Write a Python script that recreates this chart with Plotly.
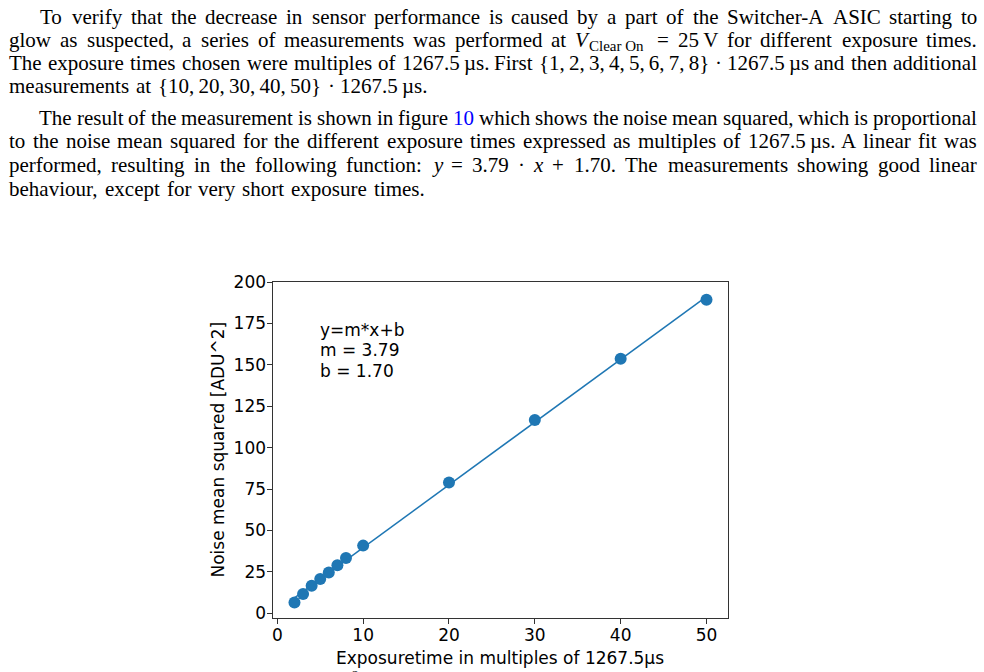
import re
import plotly.graph_objects as go

# ---------------- data ----------------
exposure_multiples = [2, 3, 4, 5, 6, 7, 8, 10, 20, 30, 40, 50]
noise_mean_sq = [6.5, 11.5, 16.5, 20.7, 24.6, 29.0, 33.3, 40.8, 79.0, 116.7, 153.7, 189.4]
fit_slope = 3.79
fit_intercept = 1.70
fit_x = [2, 50]
x_ticks = [0, 10, 20, 30, 40, 50]
y_ticks = [0, 25, 50, 75, 100, 125, 150, 175, 200]
fit_label_lines = ["y=m*x+b", "m = %.2f" % fit_slope, "b = %.2f" % fit_intercept]
x_title = "Exposuretime in multiples of 1267.5µs"
y_title = "Noise mean squared [ADU^2]"

NB = "\u00a0"
TH = "\u2009"
para1 = [
    "To verify that the decrease in sensor performance is caused by a part of the Switcher-A ASIC starting to",
    "glow as suspected, a series of measurements was performed at <i>V</i><sub>Clear" + NB + "On</sub> = 25" + TH + "V for different exposure times.",
    "The exposure times chosen were multiples of 1267.5" + TH + "µs. First {1," + TH + "2," + TH + "3," + TH + "4," + TH + "5," + TH + "6," + TH + "7," + TH + "8} · 1267.5" + TH + "µs and then additional",
    "measurements at {10," + TH + "20," + TH + "30," + TH + "40," + TH + "50} · 1267.5" + TH + "µs.",
]
para2 = [
    "The result of the measurement is shown in figure <span style='color:#0000ff'>10</span> which shows the noise mean squared, which is proportional",
    "to the noise mean squared for the different exposure times expressed as multiples of 1267.5" + TH + "µs. A linear fit was",
    "performed, resulting in the following function: <i>y</i> = 3.79 · <i>x</i> + 1.70. The measurements showing good linear",
    "behaviour, except for very short exposure times.",
]

# ---------------- layout helpers (styles / positions) ----------------
W, H = 984, 672
blue = "#1f77b4"
SERIF = "Liberation Serif"
FS = 21
SUB_FS = 15
SANS = "DejaVu Sans"
SANS_FS = 17
NAT_GAP = 7.0      # natural inter-word gap for last (ragged) lines
V_TWEAK = 5.0      # empirical vertical correction for top-anchored text

TW = {' ': 250, '\u00a0': 250, '\u2009': 200, '!': 333, '(': 333, ')': 333, '*': 500, '+': 564, ',': 250,
      '-': 333, '.': 250, '/': 278, ':': 278, ';': 278, '=': 564, '?': 444,
      'A': 722, 'B': 667, 'C': 667, 'D': 722, 'E': 611, 'F': 556, 'G': 722, 'H': 722, 'I': 333,
      'J': 389, 'K': 722, 'L': 611, 'M': 889, 'N': 722, 'O': 722, 'P': 556, 'Q': 722, 'R': 667,
      'S': 556, 'T': 611, 'U': 722, 'V': 722, 'W': 944, 'X': 722, 'Y': 722, 'Z': 611,
      'a': 444, 'b': 500, 'c': 444, 'd': 500, 'e': 444, 'f': 333, 'g': 500, 'h': 500, 'i': 278,
      'j': 278, 'k': 500, 'l': 278, 'm': 778, 'n': 500, 'o': 500, 'p': 500, 'q': 500, 'r': 333,
      's': 389, 't': 278, 'u': 500, 'v': 500, 'w': 722, 'x': 500, 'y': 500, 'z': 444,
      '{': 480, '}': 480, 'µ': 500, '·': 250}
TWI = {'V': 611, 'y': 444, 'x': 444}


def units(s, table):
    return sum(table.get(c, TW.get(c, 500)) for c in s)


def tok_width(tok):
    w = 0.0
    for m in re.finditer(r'<i>(.*?)</i>|<sub>(.*?)</sub>|<[^>]+>|([^<]+)', tok):
        if m.group(1) is not None:
            w += units(m.group(1), TWI) * FS / 1000
        elif m.group(2) is not None:
            w += units(m.group(2), TW) * SUB_FS / 1000 + 5
        elif m.group(3) is not None:
            w += units(m.group(3), TW) * FS / 1000
    return w


ann = []


def px_ann(text, x, y, xanchor, yanchor, family, size, **kw):
    ann.append(dict(text=text, x=x / W, y=1 - y / H, xref="paper", yref="paper", showarrow=False,
                    xanchor=xanchor, yanchor=yanchor, font=dict(family=family, size=size, color="black"),
                    **kw))


def top_for_baseline(baseline, size, asc=0.891):
    return baseline - 2 - asc * size - V_TWEAK


def place_line(line, left, right, baseline, justify=True):
    toks = re.split(r' (?![^<]*>)', line)
    widths = [tok_width(t) for t in toks]
    if justify and len(toks) > 1:
        gap = (right - left - sum(widths)) / (len(toks) - 1)
    else:
        gap = NAT_GAP
    x = left
    ytop = top_for_baseline(baseline, FS)
    for i, (t, w) in enumerate(zip(toks, widths)):
        if "<sub>" in t:
            main, sub = re.match(r'(.*)<sub>(.*)</sub>', t).groups()
            px_ann(main, x - 2, ytop, "left", "top", SERIF, FS)
            mw = tok_width(main)
            px_ann(sub, x + mw - 1, top_for_baseline(baseline + 4.5, SUB_FS), "left", "top", SERIF, SUB_FS)
        elif justify and i == len(toks) - 1 and len(toks) > 1:
            px_ann(t, right + 2, ytop, "right", "top", SERIF, FS)
        else:
            px_ann(t, x - 2, ytop, "left", "top", SERIF, FS)
        x += w + gap


p1_base = [19, 42.5, 66, 89.5]
p1_left = [38, 7, 7, 7]
p2_base = [121.5, 145.5, 169.5, 194.5]
p2_left = [37, 7, 7, 7]
RIGHT = 977
for i, (line, l, b) in enumerate(zip(para1, p1_left, p1_base)):
    place_line(line, l, RIGHT, b, justify=(i < len(para1) - 1))
for i, (line, l, b) in enumerate(zip(para2, p2_left, p2_base)):
    place_line(line, l, RIGHT, b, justify=(i < len(para2) - 1))

# ---------------- chart ----------------
fit_y = [fit_slope * v + fit_intercept for v in fit_x]

fig = go.Figure()
fig.add_trace(go.Scatter(x=fit_x, y=fit_y, mode="lines",
                         line=dict(color=blue, width=1.5), showlegend=False, hoverinfo="skip"))
fig.add_trace(go.Scatter(x=exposure_multiples, y=noise_mean_sq, mode="markers",
                         marker=dict(color=blue, size=12), showlegend=False))

x0, x1 = 272 / W, 727 / W
y0, y1 = 1 - 622 / H, 1 - 278 / H

axis_common = dict(showgrid=False, zeroline=False, showline=True, linecolor="#333",
                   linewidth=1, mirror=True, ticks="outside", ticklen=5, tickwidth=1,
                   tickcolor="#333", tickfont=dict(family=SANS, size=SANS_FS, color="black"))
fig.update_xaxes(range=[-0.45, 52.45], tickvals=x_ticks, domain=[x0, x1],
                 ticklabelstandoff=-4, **axis_common)
fig.update_yaxes(range=[-3, 200.2], tickvals=y_ticks, domain=[y0, y1],
                 ticklabelstandoff=-2, **axis_common)

px_ann(x_title, (272 + 727) / 2, 663, "center", "middle", SANS, SANS_FS)
px_ann(y_title, 216, 450, "center", "middle", SANS, SANS_FS, textangle=-90)
for i, t in enumerate(fit_label_lines):
    base = 337.3 + 21 * i
    px_ann(t, 319 - 2, top_for_baseline(base, SANS_FS, asc=0.928), "left", "top", SANS, SANS_FS)
# clipped glyph peeking in at the bottom edge of the page
px_ann("2", 354.5, 680, "center", "middle", SERIF, 13)

fig.update_layout(width=W, height=H, margin=dict(l=0, r=0, t=0, b=0),
                  paper_bgcolor="white", plot_bgcolor="white", annotations=ann)
fig.write_html("out.html")
